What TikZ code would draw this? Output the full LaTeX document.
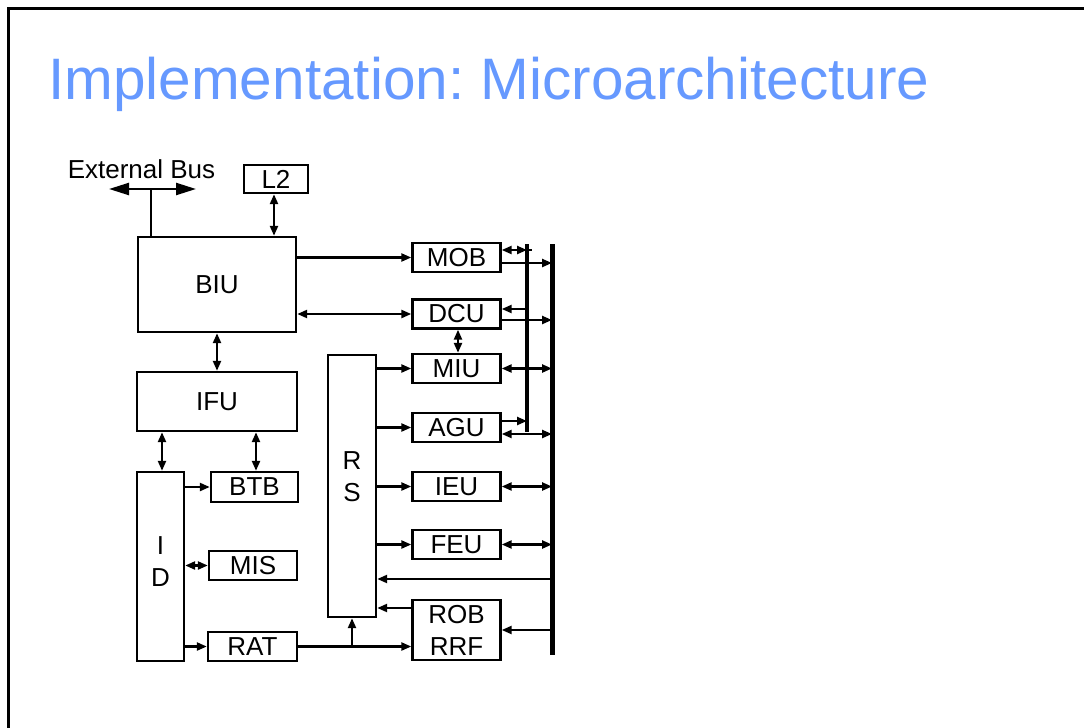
\documentclass[tikz,border=0pt]{standalone}
\usepackage{fontspec}
\setmainfont{Liberation Sans}
\usetikzlibrary{arrows.meta}
\definecolor{titleblue}{RGB}{102,153,255}
\frenchspacing
\begin{document}
\begin{tikzpicture}[x=1pt,y=-1pt,
  box/.style={draw,line width=2.4pt,inner sep=0pt,font=\fontsize{26}{32}\selectfont,align=center},
  lbl/.style={inner sep=0pt,font=\fontsize{26}{32}\selectfont,align=center},
  conn/.style={line width=2.3pt},
  arr/.style={conn,-{Triangle[length=10pt,width=8pt]}},
  darr/.style={conn,{Triangle[length=10pt,width=8pt]}-{Triangle[length=10pt,width=8pt]}},
  bigdarr/.style={conn,{Triangle[length=20pt,width=12pt]}-{Triangle[length=20pt,width=12pt]}},
]
\useasboundingbox (0,0) rectangle (1084,728);
\fill[white] (0,0) rectangle (1084,728);
\draw[line width=3pt] (1084,8) -- (8,8) -- (8,728);
\node[anchor=base west,text=titleblue,font=\fontsize{58.5}{60}\selectfont,inner sep=0pt] (title) at (48,99) {Implementation: Microarchitecture};

% boxes
\node[box,minimum width=64,minimum height=28] (L2) at (276,179) {L2};
\node[box,minimum width=158,minimum height=95] (BIU) at (217,284.5) {BIU};
\node[box,minimum width=160,minimum height=59] (IFU) at (217,401.5) {IFU};
\node[box,minimum width=47,minimum height=189] (ID) at (160.5,566.5) {};
\node[lbl] (IDl) at (160.5,562) {I\\D};
\node[box,minimum width=87,minimum height=30] (BTB) at (254.5,487) {BTB};
\node[box,minimum width=88,minimum height=29] (MIS) at (253,565.5) {MIS};
\node[box,minimum width=89,minimum height=29] (RAT) at (252.5,646.5) {RAT};
\node[box,minimum width=48,minimum height=262] (RS) at (352,486) {};
\node[lbl] (RSl) at (352,477) {R\\S};
\node[box,minimum width=88,minimum height=29] (MOB) at (456.5,257.5) {MOB};
\node[box,minimum width=88,minimum height=29] (DCU) at (456.5,314) {DCU};
\node[box,minimum width=88,minimum height=29] (MIU) at (456.5,368.5) {MIU};
\node[box,minimum width=88,minimum height=29] (AGU) at (456.5,427.5) {AGU};
\node[box,minimum width=88,minimum height=29] (IEU) at (456.5,486.5) {IEU};
\node[box,minimum width=88,minimum height=29] (FEU) at (456.5,544.5) {FEU};
\node[box,minimum width=88,minimum height=60] (ROB) at (456.5,630) {ROB\\RRF};

% external bus
\node[lbl,anchor=base] (ext) at (141.5,178) {External Bus};
\coordinate (extJ) at (151,189);
\coordinate (extL) at (109,189);
\coordinate (extR) at (196,189);
\draw[bigdarr] (extL) -- (extR);
\draw[conn] (extJ) -- (extJ |- BIU.north);

% buses
\coordinate (busT) at (552,244);
\coordinate (busB) at (552,655);
\coordinate (ibT) at (527,244);
\coordinate (ibB) at (527,432);
\draw[line width=5pt] (busT) -- (busB);
\draw[line width=4pt] (ibT) -- (ibB);

% left side connectors
\draw[darr] ([xshift=-2pt]L2.south) -- ([xshift=-2pt]L2.south |- BIU.north);
\draw[arr] (BIU.east |- MOB.west) -- (MOB.west);
\draw[darr] (BIU.east |- DCU.west) -- (DCU.west);
\draw[darr] (BIU.south) -- (IFU.north);
\draw[darr] ([xshift=1.5pt]ID.north) -- ([xshift=1.5pt]ID.north |- IFU.south);
\draw[darr] ([xshift=1.5pt]BTB.north) -- ([xshift=1.5pt]BTB.north |- IFU.south);
\draw[arr] (ID.east |- BTB.west) -- (BTB.west);
\draw[darr] (ID.east |- MIS.west) -- (MIS.west);
\draw[arr] (ID.east |- RAT.west) -- (RAT.west);
\draw[arr] (RAT.east) -- (ROB.west |- RAT.east);
\draw[arr] (RS.south |- RAT.east) -- (RS.south);

% RS to units
\draw[arr] (RS.east |- MIU.west) -- (MIU.west);
\draw[arr] (RS.east |- AGU.west) -- (AGU.west);
\draw[arr] (RS.east |- IEU.west) -- (IEU.west);
\draw[arr] (RS.east |- FEU.west) -- (FEU.west);
\draw[arr] (busT |- 0,579) -- (RS.east |- 0,579);
\draw[arr] (ROB.west |- 0,608) -- (RS.east |- 0,608);
\draw[arr] (busT |- 0,630) -- (ROB.east |- 0,630);
\draw[darr] ([xshift=1.5pt]DCU.south) -- ([xshift=1.5pt]MIU.north);

% units to buses
\draw[darr] (MOB.east |- 0,250) -- (ibT |- 0,250);
\draw[conn] (ibT |- 0,250) -- ([xshift=5pt]ibT |- 0,250);
\draw[arr] (MOB.east |- 0,263) -- (busT |- 0,263);
\draw[arr] (ibT |- 0,309) -- (DCU.east |- 0,309);
\draw[arr] (DCU.east |- 0,320) -- (busT |- 0,320);
\draw[darr] (MIU.east) -- (busT |- MIU.east);
\draw[arr] (AGU.east |- 0,421) -- (ibT |- 0,421);
\draw[darr] (AGU.east |- 0,434) -- (busT |- 0,434);
\draw[darr] (IEU.east) -- (busT |- IEU.east);
\draw[darr] (FEU.east) -- (busT |- FEU.east);
\end{tikzpicture}
\end{document}
